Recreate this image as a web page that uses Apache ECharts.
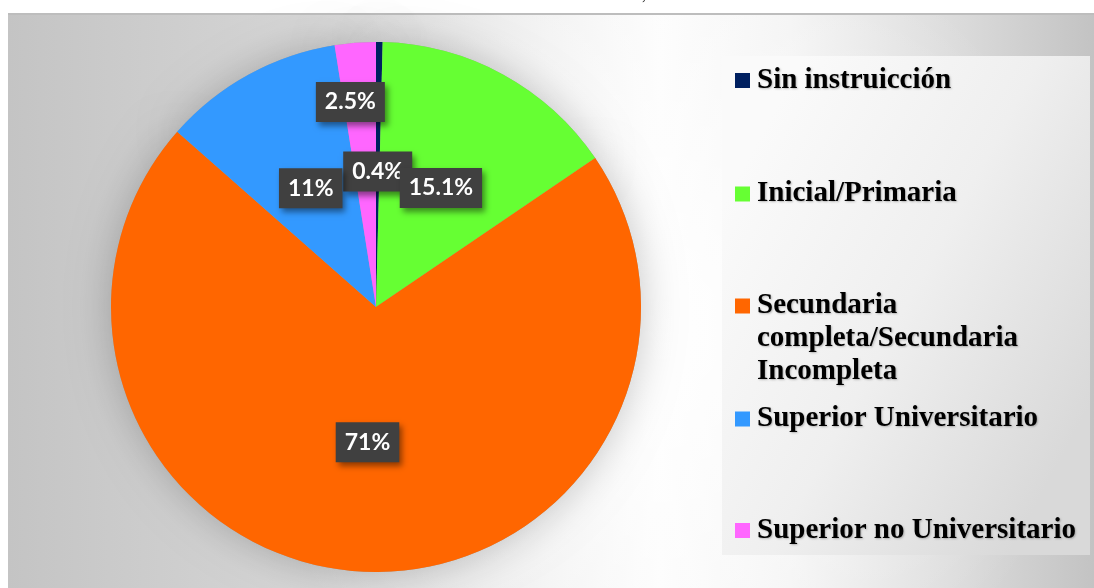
<!DOCTYPE html>
<html>
<head>
<meta charset="utf-8">
<script src="https://cdn.jsdelivr.net/npm/echarts@6/dist/echarts.min.js"></script>
<style>
html,body{margin:0;padding:0;background:#fff;}
#chart{width:1094px;height:588px;}
</style>
</head>
<body>
<div id="chart"></div>
<script>
// ---- data ----
const categories = ['Sin instruicción', 'Inicial/Primaria', 'Secundaria completa/Secundaria Incompleta', 'Superior Universitario', 'Superior no Universitario'];
const values = [0.4, 15.1, 71, 11, 2.5];
const colors = ['#002060', '#66ff33', '#ff6600', '#3399ff', '#ff66ff'];

// ---- layout ----
const legendIconCenters = [80.5, 194, 306, 419, 530.5];
const legendLineHeight = 33;

const chart = echarts.init(document.getElementById('chart'), null, {renderer: 'canvas'});

const pieData = categories.map((name, i) => ({name: name, value: values[i], itemStyle: {color: colors[i]}}));
const shadowData = categories.map((name, i) => ({name: name, value: values[i]}));

const legends = categories.map((name, i) => {
  const multi = i === 2;
  const nLines = multi ? 5 : 1;
  return {
    orient: 'vertical',
    left: 735,
    top: legendIconCenters[i] - nLines * legendLineHeight / 2,
    padding: 0,
    itemWidth: 15,
    itemHeight: 15,
    icon: 'rect',
    selectedMode: false,
    data: [name],
    formatter: n => multi ? '\n\n' + n.split(' ').join('\n') : n,
    textStyle: {
      fontFamily: '"Liberation Serif", "Times New Roman", serif',
      fontWeight: 'bold',
      fontSize: 29,
      lineHeight: legendLineHeight,
      color: '#000',
      padding: [0, 0, 0, 2],
      textShadowColor: 'rgba(0,0,0,0.25)',
      textShadowBlur: 2,
      textShadowOffsetX: 1,
      textShadowOffsetY: 1
    }
  };
});

const option = {
  animation: false,
  backgroundColor: '#ffffff',
  graphic: [
    {
      type: 'rect', z: -10, silent: true,
      shape: {x: 8, y: 14, width: 1086, height: 574},
      style: {
        fill: new echarts.graphic.LinearGradient(0, 0, 1, 0, [
          {offset: 0, color: '#c4c4c4'},
          {offset: 0.28, color: '#d6d6d6'},
          {offset: 0.5, color: '#f1f1f1'},
          {offset: 0.6, color: '#fcfcfc'},
          {offset: 0.72, color: '#f3f3f3'},
          {offset: 0.88, color: '#dadada'},
          {offset: 1, color: '#c3c3c3'}
        ])
      }
    },
    {
      type: 'rect', z: -9, silent: true,
      shape: {x: 8, y: 14, width: 1086, height: 574},
      style: {
        fill: new echarts.graphic.RadialGradient(0.6, 0.55, 0.75, [
          {offset: 0, color: 'rgba(255,255,255,0.9)'},
          {offset: 0.5, color: 'rgba(255,255,255,0.4)'},
          {offset: 1, color: 'rgba(255,255,255,0)'}
        ])
      }
    },
    {
      type: 'rect', z: -8, silent: true,
      shape: {x: 8, y: 13, width: 1086, height: 2},
      style: {fill: '#bdbdbd'}
    },
    {
      type: 'rect', z: -7, silent: true,
      shape: {x: 722, y: 56, width: 368, height: 499},
      style: {
        fill: new echarts.graphic.LinearGradient(0, 0.3, 1, 0.7, [
          {offset: 0, color: '#fafafa'},
          {offset: 0.5, color: '#efefef'},
          {offset: 1, color: '#d9d9d9'}
        ])
      }
    },
    {
      type: 'text', z: -6, silent: true,
      style: {x: 642, y: -12, text: ',', fontSize: 16, fontFamily: '"Liberation Serif", serif', fill: '#222'}
    }
  ],
  legend: legends,
  series: [
    {
      type: 'pie',
      z: 3,
      center: [376, 307],
      radius: 265,
      startAngle: 90,
      clockwise: true,
      avoidLabelOverlap: false,
      silent: true,
      itemStyle: {borderWidth: 0},
      label: {
        show: true,
        position: 'inside',
        formatter: p => p.value + '%',
        fontFamily: 'Lato, "Open Sans", sans-serif',
        fontWeight: 'bold',
        fontSize: 23,
        lineHeight: 23,
        color: '#ffffff',
        backgroundColor: '#404040',
        padding: [8, 9, 9, 9],
        shadowColor: 'rgba(0,0,0,0.45)',
        shadowBlur: 6,
        shadowOffsetX: 3,
        shadowOffsetY: 4
      },
      labelLine: {show: false},
      labelLayout: p => (p.dataIndex === 4 ? {dx: -15, dy: -70} : {}),
      emphasis: {disabled: true},
      data: pieData
    },
    {
      type: 'pie',
      z: 1,
      center: [376, 307],
      radius: 265,
      startAngle: 90,
      silent: true,
      label: {show: false},
      labelLine: {show: false},
      itemStyle: {
        color: '#a0a0a0',
        borderWidth: 0,
        shadowBlur: 40,
        shadowColor: 'rgba(0,0,0,0.22)'
      },
      emphasis: {disabled: true},
      data: shadowData
    }
  ]
};

chart.setOption(option);
</script>
</body>
</html>
